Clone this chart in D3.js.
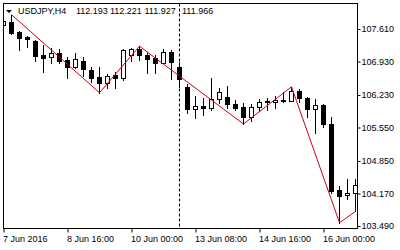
<!DOCTYPE html>
<html>
  <head>
    <meta charset="utf-8">
    <title>USDJPY H4</title>
    <script src="https://d3js.org/d3.v7.min.js"></script>
    <style>
      body { margin: 0; background: #fff; }
      text { font-family: "Liberation Sans", Arial, sans-serif; font-size: 9px; fill: #000; }
    </style>
  </head>
  <body>
    <div id="chart"></div>
    <script>
    // bar data, one entry per H4 bar (left to right)
    const opens  = [107.694,107.756,107.537,107.449,107.365,107.066,107.018,107.102,106.962,106.805,
                    106.941,106.753,106.600,106.487,106.648,106.575,107.056,107.188,107.066,107.010,
                    106.909,107.123,106.822,106.391,105.931,106.000,105.964,106.140,106.182,106.035,
                    105.973,105.776,105.973,106.104,106.083,106.125,106.111,106.320,106.173,105.931,
                    106.021,105.623,104.243,104.128,104.174];
    const highs  = [107.819,107.909,107.574,107.464,107.390,107.275,107.206,107.185,107.024,107.114,
                    107.014,106.822,106.822,106.659,106.717,107.192,107.206,107.250,107.129,107.066,
                    107.192,107.171,106.926,106.460,106.209,106.157,106.579,106.370,106.418,106.125,
                    106.056,106.035,106.146,106.173,106.209,106.293,106.401,106.349,106.194,106.140,
                    106.035,105.763,104.327,104.467,104.473];
    const lows   = [107.526,107.495,107.171,107.234,106.947,106.717,106.889,106.893,106.581,106.788,
                    106.627,106.508,106.278,106.370,106.382,106.543,106.941,106.962,106.684,106.700,
                    106.893,106.571,106.397,105.860,105.743,105.818,105.916,106.063,105.952,105.916,
                    105.623,105.686,105.895,105.916,105.958,106.083,106.104,106.090,105.776,105.425,
                    105.567,104.174,103.559,104.055,103.794];
    const closes = [107.767,107.520,107.432,107.401,107.045,107.010,107.114,106.945,106.815,106.989,
                    106.767,106.592,106.487,106.633,106.579,107.165,107.185,107.066,106.989,106.909,
                    107.129,106.914,106.560,105.927,106.000,105.968,106.140,106.286,106.035,105.964,
                    105.776,105.973,106.090,106.077,106.125,106.100,106.313,106.161,105.931,106.021,
                    105.617,104.222,104.118,104.180,104.348];

    // zigzag turning points (bar index, price)
    const zzIdx   = [1, 12, 17, 30, 36, 42, 44];
    const zzPrice = [107.909, 106.278, 107.250, 105.623, 106.401, 103.559, 103.794];

    // axis labels
    const priceTicks = [107.610, 106.930, 106.230, 105.550, 104.850, 104.170, 103.490];
    const timeIdx    = [0, 8, 16, 24, 32, 40];
    const timeLabels = ["7 Jun 2016", "8 Jun 16:00", "10 Jun 00:00", "13 Jun 08:00", "14 Jun 16:00", "16 Jun 00:00"];
    const separatorIdx = 22;   // week start 13 Jun 00:00

    const symbol = "USDJPY,H4";
    const quote  = ["112.193", "112.221", "111.927", "111.966"];

    var width = 400, height = 250;
    var plot = {left: 3.5, top: 3.5, right: 357.5, bottom: 228.5};

    const svg = d3.select("#chart")
      .append("svg")
      .attr("width", width)
      .attr("height", height);

    const data = opens.map((o, i) => ({i: i, o: o, h: highs[i], l: lows[i], c: closes[i]}));

    // scales: 8px per bar, price linear
    const x = d3.scaleLinear().domain([0, 44]).range([3.5, 355.5]);
    const y = d3.scaleLinear().domain([103.490, 107.610]).range([226, 29]);

    svg.append("clipPath").attr("id", "clip")
      .append("rect")
      .attr("x", 4).attr("y", 4)
      .attr("width", plot.right - 4.5).attr("height", plot.bottom - 4.5);

    const g = svg.append("g").attr("clip-path", "url(#clip)");

    // weekly separator
    g.append("line")
      .attr("x1", x(separatorIdx)).attr("x2", x(separatorIdx))
      .attr("y1", plot.top).attr("y2", plot.bottom)
      .attr("stroke", "#000")
      .attr("stroke-dasharray", "3,2");

    // wicks
    g.selectAll(".wick")
      .data(data)
      .enter().append("line")
      .attr("class", "wick")
      .attr("x1", d => x(d.i)).attr("x2", d => x(d.i))
      .attr("y1", d => Math.round(y(d.h)))
      .attr("y2", d => Math.round(y(d.l)) + 1)
      .attr("stroke", "#000")
      .attr("shape-rendering", "crispEdges");

    // bear bodies (filled)
    g.selectAll(".bear")
      .data(data.filter(d => d.c < d.o))
      .enter().append("rect")
      .attr("class", "bear")
      .attr("x", d => x(d.i) - 2.5)
      .attr("width", 5)
      .attr("y", d => Math.round(y(d.o)))
      .attr("height", d => Math.max(1, Math.round(y(d.c)) - Math.round(y(d.o)) + 1))
      .attr("fill", "#000")
      .attr("shape-rendering", "crispEdges");

    // bull bodies (hollow)
    g.selectAll(".bull")
      .data(data.filter(d => d.c >= d.o))
      .enter().append("rect")
      .attr("class", "bull")
      .attr("x", d => x(d.i) - 2)
      .attr("width", 4)
      .attr("y", d => Math.round(y(d.c)) + 0.5)
      .attr("height", d => Math.max(0, Math.round(y(d.o)) - Math.round(y(d.c))))
      .attr("fill", "#fff")
      .attr("stroke", "#000")
      .attr("shape-rendering", "crispEdges");

    // zigzag
    const line = d3.line()
      .x(d => x(d[0]))
      .y(d => y(d[1]));
    g.append("path")
      .datum(zzIdx.map((v, k) => [v, zzPrice[k]]))
      .attr("d", line)
      .attr("fill", "none")
      .attr("stroke", "#cc0018")
      .attr("stroke-width", 1);

    // frame
    svg.append("rect")
      .attr("x", plot.left).attr("y", plot.top)
      .attr("width", plot.right - plot.left).attr("height", plot.bottom - plot.top)
      .attr("fill", "none")
      .attr("stroke", "#000");

    // price axis on the right
    const yAxis = d3.axisRight(y)
      .tickValues(priceTicks)
      .tickFormat(d3.format(".3f"))
      .tickSize(3)
      .tickPadding(1);
    const ya = svg.append("g")
      .attr("transform", "translate(" + plot.right + ",0)")
      .call(yAxis);
    ya.select(".domain").remove();
    ya.selectAll("text").style("font-family", "Liberation Sans, Arial, sans-serif").style("font-size", "9px");

    // time axis
    const xAxis = d3.axisBottom(x)
      .tickValues(timeIdx)
      .tickFormat((d, k) => timeLabels[k])
      .tickSize(4);
    const xa = svg.append("g")
      .attr("transform", "translate(0," + plot.bottom + ")")
      .call(xAxis);
    xa.select(".domain").remove();
    xa.selectAll("text")
      .attr("text-anchor", "start")
      .attr("x", -1)
      .attr("y", 7)
      .style("font-family", "Liberation Sans, Arial, sans-serif")
      .style("font-size", "9px");

    // title
    svg.append("path")
      .attr("d", "M6,10L12,10L9,13Z")
      .attr("fill", "#000");
    svg.append("text")
      .attr("x", 18).attr("y", 13.5)
      .text(symbol);
    const quoteX = [76, 110, 144.5, 182];
    svg.selectAll(".quote")
      .data(quote)
      .enter().append("text")
      .attr("class", "quote")
      .attr("x", (d, k) => quoteX[k])
      .attr("y", 13.5)
      .text(d => d);
    </script>
  </body>
</html>
